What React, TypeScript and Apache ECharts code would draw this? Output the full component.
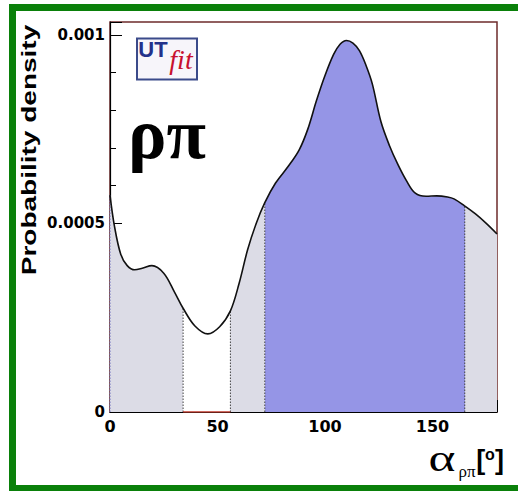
import React, { useEffect, useRef } from "react";
import * as echarts from "echarts";

// alpha (degrees) and probability density
const alphaDeg = [0, 2, 5, 8, 11.5, 15, 19.5, 25, 30, 34, 39.5, 45.5, 51, 56, 60, 64, 68, 72, 77, 83, 88, 92, 96, 100, 104, 107, 110, 113, 116, 119, 122, 126, 130, 134, 138, 142, 147, 152, 157, 160, 165, 170, 175, 180];
const density = [0.000575, 0.000495, 0.000418, 0.000388, 0.000377, 0.000381, 0.000388, 0.000368, 0.000318, 0.000275, 0.000228, 0.000207, 0.000226, 0.000268, 0.00034, 0.00043, 0.0005, 0.000555, 0.000607, 0.000652, 0.000695, 0.00075, 0.000825, 0.000892, 0.000948, 0.000975, 0.000985, 0.000978, 0.000958, 0.00092, 0.00087, 0.00077, 0.000706, 0.000655, 0.000612, 0.00058, 0.000572, 0.000573, 0.00057, 0.000565, 0.000546, 0.000525, 0.0005, 0.000472];
// interval boundaries (68% / 95% regions)
const intervalBounds = [34, 56, 72, 165];
const xTickLabels = ["0", "50", "100", "150"];
const yTickLabels = ["0", "0.0005", "0.001"];

const GRAY = "#dcdce6";
const BLUE = "#9595e6";
const GREEN = "#0a800a";

export default function App() {
  const ref = useRef<HTMLDivElement>(null);
  useEffect(() => {
    document.body.style.margin = "0";
    const chart = echarts.init(ref.current!, null, { renderer: "svg" });
    const points = alphaDeg.map((x, i) => [x, density[i]]);
    const valAt = (x: number) => density[alphaDeg.indexOf(x)];
    const labelFont = { fontFamily: "DejaVu Sans", fontWeight: "bold" as const, fontSize: 15, color: "#000" };
    const fmt = (labels: string[]) => (v: number) => {
      const hit = labels.find((l) => Math.abs(parseFloat(l) - v) < 1e-9);
      return hit ?? "";
    };
    const smooth = 0.35;
    const boundarySeries = [0, ...intervalBounds].map((b) => ({
      type: "line",
      data: [[b, 0], [b, valAt(b)]],
      symbol: "none",
      silent: true,
      z: 4,
      lineStyle: { color: b === 0 ? "#7070c0" : "#444", width: 1, type: [1.5, 1.5] },
    }));
    chart.setOption({
      animation: false,
      backgroundColor: "#fff",
      grid: { left: 110, top: 22, width: 387, height: 390, show: true, borderColor: "#6e2b2b", borderWidth: 1.5, backgroundColor: "transparent" },
      xAxis: [
        {
          type: "value", min: 0, max: 180, interval: 10,
          axisLine: { show: true, onZero: false, lineStyle: { color: "#000", width: 1.2 } },
          axisTick: { inside: true, length: 6, lineStyle: { color: "#000", width: 1 } },
          axisLabel: { show: false }, splitLine: { show: false },
        },
        {
          type: "value", position: "bottom", min: 0, max: 180, interval: 50,
          axisLine: { show: false },
          axisTick: { inside: true, length: 12, lineStyle: { color: "#000", width: 1 } },
          axisLabel: { ...labelFont, fontSize: 16, margin: 6, formatter: fmt(xTickLabels) },
          splitLine: { show: false },
        },
      ],
      yAxis: [
        {
          type: "value", position: "left", min: 0, max: 0.001034, interval: 0.0001,
          axisLine: { show: true, onZero: false, lineStyle: { color: "#000", width: 1.2 } },
          axisTick: { inside: true, length: 6, lineStyle: { color: "#000", width: 1 } },
          axisLabel: { show: false }, splitLine: { show: false },
        },
        {
          type: "value", position: "left", min: 0, max: 0.001034, interval: 0.0005,
          axisLine: { show: false },
          axisTick: { inside: true, length: 12, lineStyle: { color: "#000", width: 1 } },
          axisLabel: { ...labelFont, margin: 5, formatter: fmt(yTickLabels) },
          splitLine: { show: false },
        },
      ],
      visualMap: {
        type: "piecewise", show: false, dimension: 0, seriesIndex: 0,
        pieces: [
          { gte: 0, lt: intervalBounds[0], color: GRAY },
          { gte: intervalBounds[0], lt: intervalBounds[1], color: "#ffffff" },
          { gte: intervalBounds[1], lt: intervalBounds[2], color: GRAY },
          { gte: intervalBounds[2], lt: intervalBounds[3], color: BLUE },
          { gte: intervalBounds[3], lte: 180, color: GRAY },
        ],
      },
      series: [
        { type: "line", data: points, smooth, symbol: "none", silent: true, z: 2, lineStyle: { width: 0 }, areaStyle: { opacity: 1 } },
        { type: "line", data: points, smooth, symbol: "none", silent: true, z: 5, lineStyle: { color: "#111", width: 1.6 } },
        ...boundarySeries,
        { type: "line", data: [[intervalBounds[0], 0], [intervalBounds[1], 0]], symbol: "none", silent: true, z: 6, lineStyle: { color: "#c0392b", width: 1.5 } },
      ],
      graphic: [
        { type: "rect", shape: { x: 9, y: 4, width: 7, height: 487 }, style: { fill: GREEN }, silent: true },
        { type: "rect", shape: { x: 9, y: 4, width: 509, height: 7 }, style: { fill: GREEN }, silent: true },
        { type: "rect", shape: { x: 9, y: 485, width: 509, height: 6 }, style: { fill: GREEN }, silent: true },
        { type: "text", x: 29, y: 150, rotation: Math.PI / 2, scaleX: 1.4, style: { text: "Probability density", font: 'bold 20px "Liberation Sans"', fill: "#000", align: "center", verticalAlign: "middle" } },
        { type: "text", x: 167, y: 134, style: { text: "ρπ", font: 'bold 72px "Liberation Serif"', fill: "#000", align: "center", verticalAlign: "middle" } },
        { type: "rect", shape: { x: 137, y: 38.5, width: 60, height: 41 }, style: { fill: "#f7f5fa", stroke: "#3b4a8a", lineWidth: 2 }, silent: true },
        { type: "text", x: 153, y: 49, style: { text: "UT", font: 'bold 22px "Liberation Sans"', fill: "#23318a", align: "center", verticalAlign: "middle" } },
        { type: "text", x: 181, y: 59, style: { text: "fit", font: 'italic 28px "Liberation Serif"', fill: "#c8102e", align: "center", verticalAlign: "middle" } },
        { type: "text", x: 442, y: 458, scaleX: 1.35, style: { text: "α", font: '38px "Liberation Serif"', fill: "#000", align: "center", verticalAlign: "middle" } },
        { type: "text", x: 467, y: 471, style: { text: "ρπ", font: '17px "Liberation Serif"', fill: "#000", align: "center", verticalAlign: "middle" } },
        {
          type: "text", x: 490, y: 460,
          style: {
            text: "{b|[}{o|o}{b|]}", align: "center", verticalAlign: "middle", fill: "#000",
            rich: {
              b: { font: 'bold 27px "Liberation Sans"', fill: "#000" },
              o: { font: 'bold 16px "Liberation Sans"', fill: "#000", verticalAlign: "top" },
            },
          },
        },
      ],
    });
    return () => chart.dispose();
  }, []);
  return <div ref={ref} style={{ width: 518, height: 491 }} />;
}
